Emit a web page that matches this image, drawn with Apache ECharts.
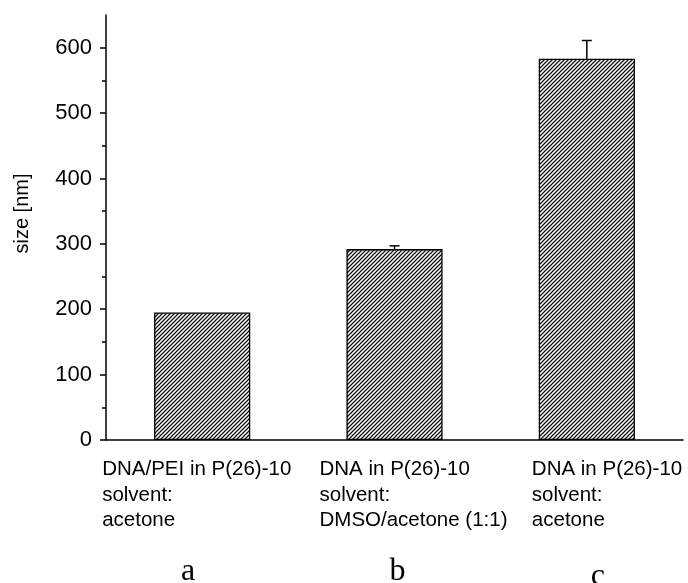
<!DOCTYPE html>
<html>
<head>
<meta charset="utf-8">
<script src="https://cdn.jsdelivr.net/npm/echarts@6/dist/echarts.min.js"></script>
<style>
  html, body { margin: 0; padding: 0; background: #fff; }
  #main { width: 688px; height: 583px; }
</style>
</head>
<body>
<div id="main"></div>
<script>
// sample descriptions (one array of lines per bar)
var categories = [
  ['DNA/PEI in P(26)-10', 'solvent:', 'acetone'],
  ['DNA in P(26)-10', 'solvent:', 'DMSO/acetone (1:1)'],
  ['DNA in P(26)-10', 'solvent:', 'acetone']
];
var letters = ['a', 'b', 'c'];
var sizes = [195, 292, 583];     // nm
var errors = [0, 5, 28];         // upper error, nm
var yTicks = [0, 100, 200, 300, 400, 500, 600];
var yMinorTicks = [50, 150, 250, 350, 450, 550];

var font = 'Liberation Sans, Arial, sans-serif';

// diagonal hatch like the original plot
function hatch() {
  var c = document.createElement('canvas');
  c.width = 4; c.height = 4;
  var g = c.getContext('2d');
  g.fillStyle = '#fff';
  g.fillRect(0, 0, 4, 4);
  g.strokeStyle = '#111';
  g.lineWidth = 1.25;
  g.beginPath();
  g.moveTo(0, 4); g.lineTo(4, 0);
  g.moveTo(-1, 1); g.lineTo(1, -1);
  g.moveTo(3, 5); g.lineTo(5, 3);
  g.stroke();
  return c;
}

// label box widths so the text starts left of each tick as in the picture
var boxW = [200, 150, 110];
var keys = letters.map(function (l) { return 'k' + l; });
var rich = {};
keys.forEach(function (k, i) {
  rich[k] = { width: boxW[i], align: 'left', fontSize: 20.5, lineHeight: 25.5, fontFamily: font, color: '#000' };
});

// the letters sit a little off-centre under the bars
var letterPad = [[0, 28, 0, 0], [0, 0, 0, 6], [5, 0, 0, 22]];

var chart = echarts.init(document.getElementById('main'));

var option = {
  animation: false,
  backgroundColor: '#fff',
  grid: { left: 106, right: 5, top: 15, bottom: 143, outerBoundsMode: 'none', containLabel: false },
  xAxis: [{
    type: 'category',
    data: categories.map(function (c, i) { return String(i); }),
    axisLine: { lineStyle: { color: '#000', width: 1.5 } },
    axisTick: { alignWithLabel: true, length: 6, lineStyle: { color: '#000', width: 1.5 } },
    axisLabel: {
      interval: 0,
      margin: 17,
      align: 'center',
      formatter: function (v) {
        var i = +v;
        return categories[i].map(function (l) { return '{' + keys[i] + '|' + l + '}'; }).join('\n');
      },
      rich: rich
    }
  }, {
    type: 'category',
    position: 'bottom',
    data: letters.map(function (l, i) { return { value: l, textStyle: { padding: letterPad[i] } }; }),
    axisLine: { show: false },
    axisTick: { length: 4, lineStyle: { color: '#000', width: 1.5 } },
    axisLabel: {
      interval: 0,
      margin: 116,
      fontFamily: 'Liberation Serif, Times New Roman, serif',
      fontSize: 32,
      color: '#000'
    }
  }],
  yAxis: [{
    type: 'value',
    min: 0,
    max: 650,
    interval: 50,
    name: 'size [nm]',
    nameLocation: 'middle',
    nameGap: 74,
    nameTextStyle: { fontSize: 20, fontFamily: font, color: '#000', padding: [0, 0, 0, 28] },
    axisLine: { show: true, lineStyle: { color: '#000', width: 1.5 } },
    axisTick: { show: true, length: 6, customValues: yTicks, lineStyle: { color: '#000', width: 1.5 } },
    axisLabel: { margin: 14, fontSize: 22, fontFamily: font, color: '#000', customValues: yTicks },
    splitLine: { show: false }
  }, {
    type: 'value',
    min: 0,
    max: 650,
    interval: 50,
    position: 'left',
    axisLine: { show: false },
    axisTick: { show: true, length: 4, customValues: yMinorTicks, lineStyle: { color: '#000', width: 1.5 } },
    axisLabel: { show: false },
    splitLine: { show: false }
  }],
  series: [{
    type: 'bar',
    data: sizes,
    barWidth: '50%',
    itemStyle: {
      color: { image: hatch(), repeat: 'repeat' },
      borderColor: '#000',
      borderWidth: 1.3
    },
    z: 2
  }, {
    type: 'custom',
    data: sizes.map(function (v, i) { return [i, v, errors[i]]; }),
    renderItem: function (params, api) {
      var i = api.value(0), v = api.value(1), e = api.value(2);
      if (!e) return null;
      var p0 = api.coord([i, v]);
      var p1 = api.coord([i, v + e]);
      return {
        type: 'group',
        children: [{
          type: 'line',
          shape: { x1: p0[0], y1: p0[1], x2: p1[0], y2: p1[1] },
          style: { stroke: '#000', lineWidth: 1.5 }
        }, {
          type: 'line',
          shape: { x1: p1[0] - 5, y1: p1[1], x2: p1[0] + 5, y2: p1[1] },
          style: { stroke: '#000', lineWidth: 1.5 }
        }]
      };
    },
    z: 3
  }]
};

chart.setOption(option);
</script>
</body>
</html>
